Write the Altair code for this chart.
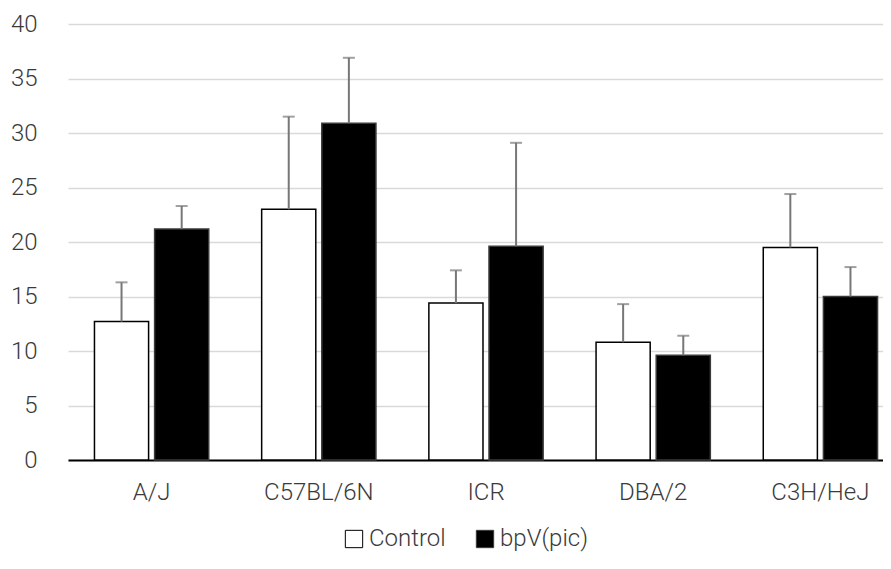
import altair as alt
import pandas as pd

categories = ["A/J", "C57BL/6N", "ICR", "DBA/2", "C3H/HeJ"]
series = ["Control", "bpV(pic)"]
control_mean = [12.7, 23.0, 14.4, 10.8, 19.5]
control_err = [3.6, 8.5, 3.0, 3.5, 4.9]
bpv_mean = [21.2, 30.9, 19.6, 9.6, 15.0]
bpv_err = [2.1, 6.0, 9.5, 1.8, 2.7]
y_ticks = [0, 5, 10, 15, 20, 25, 30, 35, 40]

rows = []
for i, c in enumerate(categories):
    rows.append({"strain": c, "group": series[0], "mean": control_mean[i], "err": control_err[i]})
    rows.append({"strain": c, "group": series[1], "mean": bpv_mean[i], "err": bpv_err[i]})
df = pd.DataFrame(rows)
df["upper"] = df["mean"] + df["err"]

FONT = "Roboto, Lato, sans-serif"
FW = 300
TXT = "#3a3a3a"

x_enc = alt.X(
    "strain:N",
    sort=categories,
    scale=alt.Scale(range=[0, 836], paddingInner=0, paddingOuter=0),
    axis=alt.Axis(
        title=None, labelAngle=0, ticks=False, grid=False,
        domainColor="black", domainWidth=2,
        labelFontSize=24, labelFontWeight=FW, labelColor=TXT, labelPadding=20, labelFont=FONT,
    ),
)
xoff = alt.XOffset("group:N", sort=series, scale=alt.Scale(paddingInner=0.1, paddingOuter=0.44))
y_scale = alt.Scale(domain=[0, 40], nice=False)

base = alt.Chart(df)

bars = base.mark_bar(strokeWidth=1.5).encode(
    x=x_enc,
    xOffset=xoff,
    y=alt.Y(
        "mean:Q", scale=y_scale,
        axis=alt.Axis(
            title=None, values=y_ticks, domain=False, ticks=False,
            gridColor="#d9d9d9", gridWidth=1.5,
            labelFontSize=24, labelFontWeight=FW, labelColor=TXT, labelPadding=31, labelFont=FONT,
        ),
    ),
    fill=alt.Fill(
        "group:N",
        scale=alt.Scale(domain=series, range=["white", "black"]),
        legend=alt.Legend(
            title=None, orient="none", direction="horizontal",
            legendX=274, legendY=503, padding=0,
            symbolType="square", symbolSize=300,
            symbolStrokeColor="black", symbolStrokeWidth=1,
            labelFontSize=24, labelFontWeight=FW, labelFont=FONT, labelColor=TXT,
            labelOffset=3, columnPadding=27,
        ),
    ),
    stroke=alt.Stroke(
        "group:N",
        scale=alt.Scale(domain=series, range=["black", "#3a3a3a"]),
        legend=None,
    ),
)

rules = base.mark_rule(color="#777777", strokeWidth=2).encode(
    x=x_enc, xOffset=xoff, y=alt.Y("mean:Q", scale=y_scale), y2="upper:Q"
)
caps = base.mark_tick(color="#777777", thickness=2, size=12).encode(
    x=x_enc, xOffset=xoff, y=alt.Y("upper:Q", scale=y_scale)
)

chart = (
    alt.layer(bars, rules, caps)
    .properties(
        width=815, height=436,
        autosize=alt.AutoSizeParams(type="none"),
        padding={"left": 60, "top": 16, "right": 0, "bottom": 97},
    )
    .configure_view(stroke=None)
)

chart.save("out.html", embed_options={"renderer": "svg", "actions": False})
